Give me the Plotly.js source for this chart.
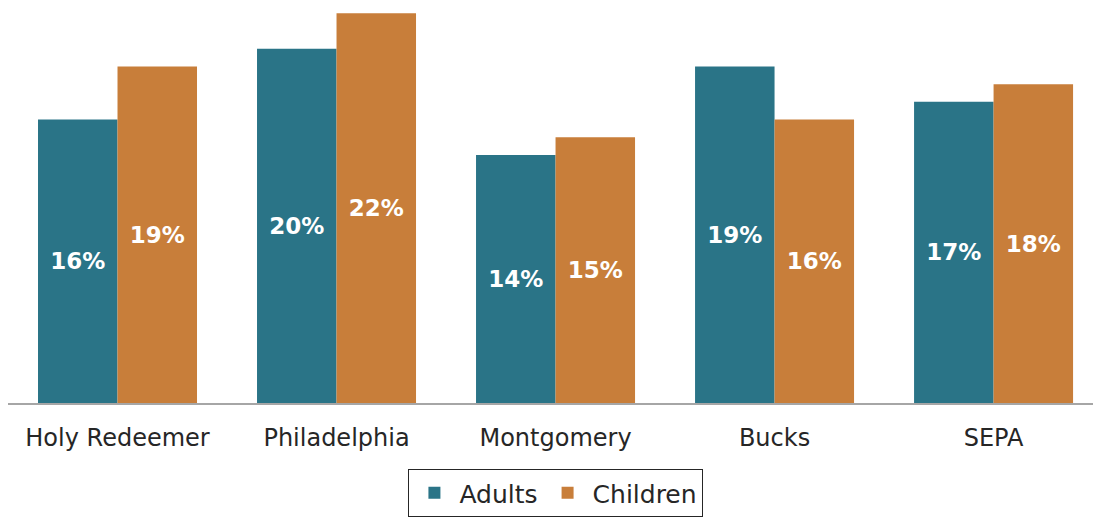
<!DOCTYPE html>
<html>
<head>
<meta charset="utf-8">
<script src="https://cdn.plot.ly/plotly-3.0.1.min.js"></script>
<style>html,body{margin:0;padding:0;background:#fff;}#chart{width:1093px;height:517px;}</style>
</head>
<body>
<div id="chart"></div>
<script>
const categories = ["Holy Redeemer", "Philadelphia", "Montgomery", "Bucks", "SEPA"];
const adults = [16, 20, 14, 19, 17];
const children = [19, 22, 15, 16, 18];
const seriesNames = ["Adults", "Children"];

const FONT = "'DejaVu Sans', 'Open Sans', sans-serif";
const labelFont = {family: FONT, size: 23, color: "#ffffff", weight: "bold"};

function trace(name, vals, color) {
  return {
    type: "bar", name: name, x: categories, y: vals,
    marker: {color: color},
    text: vals.map(v => "<b>" + v + "%</b>"),
    textposition: "inside", insidetextanchor: "middle",
    textfont: labelFont, textangle: 0, hoverinfo: "skip"
  };
}

const data = [
  trace(seriesNames[0], adults, "#2A7487"),
  trace(seriesNames[1], children, "#C87E3A")
];

const layout = {
  width: 1093, height: 517,
  margin: {l: 8, r: 0, t: 0, b: 113},
  barmode: "group", bargap: 0.274, bargroupgap: 0,
  paper_bgcolor: "#ffffff", plot_bgcolor: "#ffffff",
  showlegend: true,
  xaxis: {
    type: "category", range: [-0.5, 4.454],
    showline: true, linecolor: "#A6A6A6", linewidth: 2,
    ticks: "outside", ticklen: 12, tickcolor: "rgba(0,0,0,0)",
    tickfont: {family: FONT, size: 24, color: "#262626"},
    showgrid: false, zeroline: false, fixedrange: true
  },
  yaxis: {range: [0, 22.75], visible: false, showgrid: false, zeroline: false, fixedrange: true},
  legend: {
    orientation: "h", x: 0.505, xanchor: "center", y: -0.163, yanchor: "top",
    bordercolor: "#262626", borderwidth: 1,
    font: {family: FONT, size: 25, color: "#262626"},
    itemwidth: 40, traceorder: "normal"
  },
  uniformtext: {mode: "show", minsize: 10}
};

Plotly.newPlot("chart", data, layout, {displayModeBar: false, staticPlot: true});
</script>
</body>
</html>
